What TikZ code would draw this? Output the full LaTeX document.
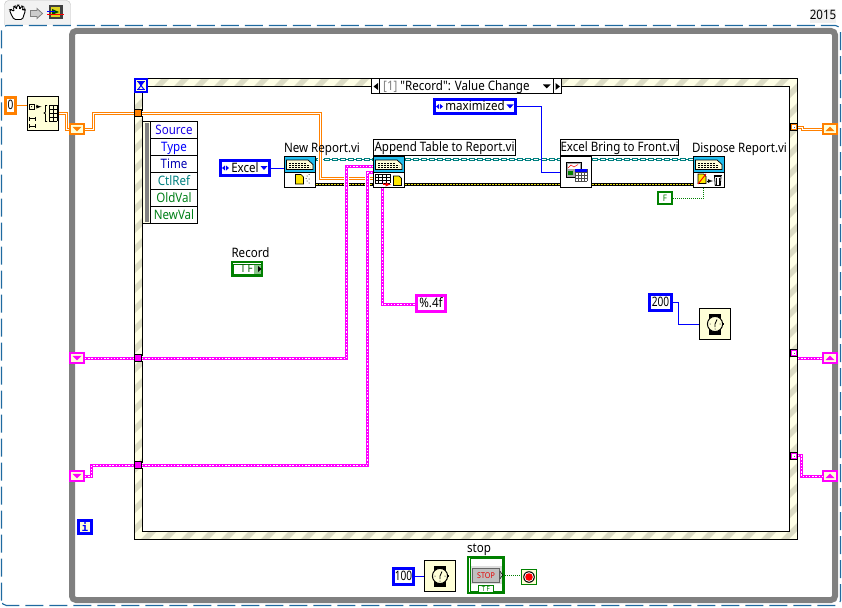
\documentclass[tikz,border=0pt]{standalone}
\usepackage{fontspec}
\setmainfont{Noto Sans}[Ligatures=TeXOff,FakeStretch=.89]
\newfontfamily\numfont{Noto Sans}[FakeStretch=.78]
\newfontfamily\iterfont{DejaVu Sans Mono}
\definecolor{lvorange}{HTML}{FF8000}
\definecolor{lvpink}{HTML}{FF00FF}
\definecolor{lvblue}{HTML}{0000FF}
\definecolor{lvgreen}{HTML}{008000}
\definecolor{lvteal}{HTML}{008080}
\definecolor{lvcream}{HTML}{FFFFD8}
\definecolor{lvhatch}{HTML}{DCDCC4}
\definecolor{lvbase}{HTML}{FFFFE6}
\definecolor{frameblue}{HTML}{1F6AA0}
\definecolor{vihead}{HTML}{1FBDEE}
\newcommand\lvfont{\fontsize{13}{15}\selectfont}
\tikzstyle{txt} = [text height=11pt,text depth=3pt]
\tikzstyle{cnst} = [draw=#1,line width=3pt,fill=white,inner sep=0pt]
\tikzstyle{vi} = [draw=black,line width=1pt,fill=white,inner sep=0pt,minimum size=31]
\tikzstyle{fnct} = [draw=black,line width=1pt,fill=lvcream,inner sep=0pt,minimum size=31]
\tikzstyle{tunnel} = [draw=black,line width=1pt,fill=#1,inner sep=0pt,minimum size=7]
\tikzstyle{shreg} = [draw=#1,line width=2pt,fill=lvcream,inner sep=0pt,minimum width=14,minimum height=10]
\tikzstyle{tag} = [draw=black,line width=1pt,fill=white,inner sep=0pt,minimum height=16,txt]
\tikzstyle{blwire} = [draw=lvblue,line width=1pt]
\tikzstyle{orwire} = [draw=lvorange,line width=1pt,double=white,double distance=1pt]
\tikzstyle{thinor} = [draw=lvorange,line width=1pt]
\tikzstyle{strwire} = [draw=lvpink,line width=3pt,preaction={draw=white,line width=5pt},postaction={draw=white,line width=1.2pt,dash pattern=on 1.3pt off 1.9pt}]
\tikzstyle{refwire} = [draw=lvteal,line width=1pt,preaction={draw=lvteal,line width=3pt,dash pattern=on 6pt off 2pt},postaction={draw=white,line width=1pt,dash pattern=on 4pt off 4pt,dash phase=7pt}]
\tikzstyle{errwire} = [draw=black,line width=3pt,postaction={draw=yellow!90!black,line width=1pt,dash pattern=on 2pt off 1pt}]
\tikzstyle{blnwire} = [draw=lvgreen,line width=1pt,dash pattern=on 1pt off 1pt]
\tikzstyle{cellbox} = [draw=black,line width=.8pt,fill=white,inner sep=0pt,minimum width=46.5,minimum height=17,txt]
% enum ring marks, left arrows and drop-down triangle
\newcommand\ringmk[1]{%
	\fill[lvblue] ([xshift=3pt]#1.west) -- ++(3,-2.5) -- ++(0,5) -- cycle;
	\fill[lvblue] ([xshift=7pt]#1.west) -- ++(-0,-2.5) -- ++(3,2.5) -- ++(-3,2.5) -- cycle;
	\fill[lvblue] ([xshift=-3.5pt]#1.east) ++(0,-2) -- ++(-7,0) -- ++(3.5,4) -- cycle;}
% shift register triangle, #2 is the side it points to
\newcommand\shmk[3]{%
	\fill[#2] ([xshift=-4.5pt]#1.center) ++(0,#3*-2.2) -- ++(9,0) -- ++(-4.5,#3*4.6) -- cycle;}
% cyan header of a report vi
\newcommand\vitop[1]{\begin{scope}[shift={(#1.north west)}]
	\fill[vihead] (.5,.5) rectangle (31.5,16.5);
	\draw[line width=.7pt,fill=lvcream] (2.5,13.5) -- (2.5,4) -- (24,4) -- (29,8.5) -- (29,13.5) -- cycle;
	\draw[line width=.7pt,dash pattern=on 2pt off 1pt] (5,7) -- (22,7) (5,9.5) -- (26,9.5) (5,11.8) -- (26,11.8);
	\draw[line width=1pt] (.5,16.5) -- (31.5,16.5);
	\draw[line width=1pt] (.5,.5) rectangle (31.5,31.5);
\end{scope}}
\newcommand\watch[1]{\begin{scope}[shift={(#1.center)}]
	\fill[black] (-6.2,-10.5) rectangle (6.2,10.5);
	\fill[black] (7.5,-1) rectangle (9,1);
	\draw[line width=1pt,fill=lvcream] (0,0) circle (7.6);
	\draw[line width=.8pt] (0,0) -- (2,-4.5) (0,0) -- (0,3);
	\fill (-5,0) circle (.5) (5,0) circle (.5) (0,5) circle (.5);
\end{scope}}
\newcommand\page[1]{\fill[yellow!90!orange,draw=black,line width=.7pt] (#1) -- ++(5.5,0) -- ++(2.5,2.5) -- ++(0,7) -- ++(-8,0) -- cycle;}

\begin{document}
\begin{tikzpicture}[x=1pt,y=-1pt,font=\lvfont]
\useasboundingbox (0,0) rectangle (842,607);

% tool palette and version tab
\draw[draw=black!25,fill=black!5,rounded corners=4pt] (4.5,25) -- (4.5,0.5) -- (70.5,0.5) -- (70.5,25);
\node[fill=black!6,inner sep=0pt,minimum width=26,minimum height=14,txt] (vers) at (823,16) {2015};
\draw[frameblue,line width=1.1pt,dash pattern=on 18pt off 6pt,rounded corners=5pt] (1.5,605.5) -- (1.5,25.5) -- (840.5,25.5) -- (840.5,605.5) -- cycle;
\draw[line width=.9pt,fill=white,rounded corners=1.5pt] (14,19.5) -- (10.5,13) -- (9.5,9.5) -- (12,9.5) -- (14,12) -- (13.5,6.5) -- (15.5,6) -- (16.5,10) -- (17,5) -- (19.5,5) -- (19.5,10) -- (21.5,6) -- (23.5,6.5) -- (22,11) -- (24.5,8.5) -- (25.5,10.5) -- (23.5,16) -- (22.5,19.5) -- cycle;
\draw[draw=black!50,fill=black!20,line width=.8pt] (30.5,10.5) -- (37,10.5) -- (37,8.5) -- (42.5,13.5) -- (37,18.5) -- (37,16.5) -- (30.5,16.5) -- cycle;
\fill[black!75] (48.5,5) rectangle (62.5,19);
\fill[yellow!85!black] (51,7) rectangle (60,17);
\fill[black!70!green] (52,9) -- (59,12) -- (52,15) -- cycle;
\draw[red,line width=.8pt] (47,14) -- (64,14);
\draw[blue,line width=.8pt] (47,11) -- (55,11);

% while loop and event structure
\node[draw=black!50,line width=6pt,rounded corners=4pt,inner sep=0pt,minimum width=763,minimum height=569] (whloop) at (453.5,315.5) {};
\begin{scope}
	\clip (134.5,78.5) rectangle (797.5,539.5);
	\fill[lvbase] (134.5,78.5) rectangle (797.5,539.5);
	\foreach \s in {-340,-320,...,800}
		\fill[lvhatch] (\s,540) -- (\s+8,540) -- (\s+469,79) -- (\s+461,79) -- cycle;
\end{scope}
\node[draw=black,line width=1pt,inner sep=0pt,minimum width=663,minimum height=461] (evout) at (466,309) {};
\node[draw=black,line width=1pt,fill=white,inner sep=0pt,minimum width=647,minimum height=445] (evin) at (466,309) {};

% rows the wires run on
\coordinate (rowo) at (0,113.5);
\coordinate (rowr) at (0,129.5);
\coordinate (rowa) at (0,358.5);
\coordinate (rowb) at (0,465.5);
\coordinate (rowc) at (0,476.5);

% case selector
\node[tag,minimum width=190,minimum height=15] (evsel) at (466.5,86.5) {};
\draw[line width=1pt] (379.5,79) -- (379.5,94) (553.5,79) -- (553.5,94);
\fill (373.5,86.5) -- (378,83) -- (378,90) -- cycle;
\fill (560,86.5) -- (555.5,83) -- (555.5,90) -- cycle;
\fill (543,84.5) -- (550.5,84.5) -- (546.75,88.5) -- cycle;
\node[anchor=west,inner sep=0pt,txt] (evtxt) at (383,86.5) {\textcolor{black!50}{[1]} "Record": Value Change};

% event data cluster
\fill[lvbase,draw=black,line width=.8pt] (142.5,121.5) rectangle (150.5,223.5);
\fill[black!50] (144.5,123) rectangle (148.5,222);
\node[cellbox,text=blue!80!violet] (evsrc) at (174,130) {Source};
\node[cellbox,text=blue] (evtyp) at (174,147) {Type};
\node[cellbox,text=blue!70!black] (evtim) at (174,164) {Time};
\node[cellbox,text=lvteal] (evctl) at (174,181) {CtlRef};
\node[cellbox,text=lvgreen!80!teal] (evold) at (174,198) {OldVal};
\node[cellbox,text=lvgreen!80!teal] (evnew) at (174,215) {NewVal};

% report vis
\node[vi] (nrp) at (300,172) {};
\node[vi] (apnd) at (389,172) {};
\node[vi] (frnt) at (576,172) {};
\node[vi] (dsp) at (709,172) {};
\node[cnst=lvblue,minimum width=49,minimum height=15,txt] (xlcn) at (245,168) {Excel};
\node[cnst=lvblue,minimum width=81,minimum height=14,txt] (mxcn) at (475,106.5) {maximized};
\node[cnst=lvgreen,line width=2pt,minimum width=14,minimum height=12] (fcn) at (665,198) {};
\node[cnst=lvpink,minimum width=29,minimum height=16,txt] (fmt) at (431,303.5) {\%.4f};

% everything on the loop border
\node[tunnel=lvorange] (tunLo) at (138,113) {};
\node[tunnel=lvpink] (tunLa) at (138,358) {};
\node[tunnel=lvpink] (tunLb) at (138,465) {};
\node[tunnel=lvorange] (tunRo) at (794,127) {};
\node[tunnel=lvpink] (tunRa) at (794,353) {};
\node[tunnel=lvpink] (tunRb) at (794,456) {};
\node[shreg=lvorange] (shLo) at (77,129) {};
\node[shreg=lvpink] (shLa) at (77,358) {};
\node[shreg=lvpink] (shLb) at (77,476) {};
\node[shreg=lvorange] (shRo) at (830,129) {};
\node[shreg=lvpink] (shRa) at (830,358) {};
\node[shreg=lvpink] (shRb) at (830,476) {};

% outside the event structure
\node[cnst=lvorange,minimum width=10,minimum height=16,txt,font=\numfont\lvfont] (czero) at (10.5,105.5) {0};
\node[fnct,minimum width=31,minimum height=34] (init) at (43,113.5) {};
\node[cnst=lvblue,fill=lvcream,minimum width=13,minimum height=13,font=\iterfont\fontsize{11}{11}\selectfont,text=lvblue] (iter) at (85,527) {\bfseries i};
\node[cnst=lvblue,minimum width=22,minimum height=16,txt,font=\numfont\lvfont] (cms) at (660.5,302.5) {200};
\node[fnct] (wtin) at (715,324) {};
\node[cnst=lvblue,minimum width=20,minimum height=16,txt,font=\numfont\lvfont] (chd) at (403.5,576.5) {100};
\node[fnct] (wtot) at (440,576) {};
\node[cnst=lvgreen,line width=2pt,fill=white,minimum size=36] (stp) at (486,575) {};
\node[draw=lvgreen,line width=1pt,fill=lvcream,inner sep=0pt,minimum size=15] (cond) at (529,577) {};
\node[cnst=lvgreen,line width=2pt,minimum width=30,minimum height=14] (rec) at (247,269) {};
\node[cnst=lvblue,line width=2pt,fill=lvcream,minimum width=12,minimum height=13] (hgls) at (141,85.5) {};

% wires
\draw[thinor] (czero.east) -- (czero.east -| init.west);
\draw[orwire] (init.east |- rowo) -- ++(7.5,0) |- (shLo.west |- rowr);
\draw[orwire] (shLo.east |- rowr) -- ++(8.5,0) |- (tunLo.west |- rowo);
\draw[refwire] ([yshift=-3.5pt]nrp.north east) -- ([yshift=-3.5pt]apnd.north west);
\draw[refwire] ([yshift=-3.5pt]apnd.north east) -- ([yshift=-3.5pt]frnt.north west);
\draw[refwire] ([yshift=-3.5pt]frnt.north east) -- ([yshift=-3.5pt]dsp.north west);
\draw[errwire] ([yshift=3.5pt]nrp.south east) -- ([yshift=3.5pt]apnd.south west);
\draw[errwire] ([yshift=3.5pt]apnd.south east) -- ([yshift=3.5pt]frnt.south west);
\draw[errwire] ([yshift=3.5pt]frnt.south east) -- ([yshift=3.5pt]dsp.south west);
\coordinate (obend) at (320.5,178.5);
\draw[orwire,preaction={draw=white,line width=5pt}] (tunLo.east |- rowo) -| (obend) -- (obend -| apnd.west);
\draw[orwire] ([yshift=-.5pt]tunRo.east) -- ++(4.5,0) |- (shRo.west |- rowr);
\coordinate (abend) at (346.5,166.5);
\coordinate (bbend) at (367.5,172.5);
\draw[strwire] (shLa.east |- rowa) -- (tunLa.west |- rowa);
\draw[strwire] (shLb.east |- rowc) -- ++(6.5,0) |- (tunLb.west |- rowb);
\draw[strwire] (tunLa.east |- rowa) -| (abend) -- (abend -| apnd.west);
\draw[strwire] (tunLb.east |- rowb) -| (bbend) -- (bbend -| apnd.west);
\draw[strwire] ([xshift=9.5pt]apnd.south west) |- ([yshift=-1pt]fmt.west);
\draw[strwire] (tunRa.east |- rowa) -- (shRa.west |- rowa);
\draw[strwire] ([yshift=.5pt]tunRb.east) -- ++(3.5,0) |- (shRb.west |- rowc);
\draw[blwire] ([yshift=-.5pt]xlcn.east) -- ([yshift=-.5pt]xlcn.east -| nrp.west);
\coordinate (mbend) at (541.5,172.5);
\draw[blwire] (mxcn.east) -| (mbend) -- (mbend -| frnt.west);
\draw[blwire] (cms.east) -- ++(5.5,0) |- ([yshift=-.5pt]wtin.west);
\draw[blwire] (chd.east) -- (chd.east -| wtot.west);
\draw[blnwire] ([yshift=-.5pt]fcn.east) -| ([xshift=10.5pt]dsp.south west);
\draw[blnwire] ([yshift=-.5pt]stp.east) -- ([yshift=-.5pt]stp.east -| cond.west);

% icon faces
\vitop{nrp}
\vitop{apnd}
\vitop{dsp}
\ringmk{xlcn}
\ringmk{mxcn}
\page{295.5,174.5}
\fill (307,176) circle (.5) (309,174.5) circle (.5) (306,178.5) circle (.5) (309,179) circle (.5) (307,181) circle (.5) (309,183) circle (.5);
\draw[line width=.7pt,xstep=3.75pt,ystep=3pt,shift={(375,174)}] (0,9) grid (15,0);
\draw[red,line width=.9pt,-latex] (383,183) -- (383,184.5) -- (391,184.5);
\page{393.5,176}
\page{698,174}
\draw[red,line width=.9pt] (698,184) -- (706,174);
\draw[line width=.8pt,-latex] (707,181) -- (713,181);
\draw[line width=.8pt,fill=white] (714.5,176.5) -- (721,176.5) -- (720.3,185.5) -- (715.2,185.5) -- cycle;
\draw[line width=.8pt] (713.5,175.5) -- (722,175.5) (716.5,177.5) -- (716.5,184.5) (719,177.5) -- (719,184.5);
\draw[line width=.8pt,fill=black!35] (566,162) rectangle (581,177);
\fill[white] (567.5,163.5) rectangle (579.5,169);
\draw[red,line width=.5pt] (568,168) -- (571,165) -- (574,167) -- (578,164.5);
\fill[lvgreen] (568,171) rectangle (573,175);
\fill[white] (575,169) rectangle (587,181);
\draw[line width=.6pt,step=3pt,draw=black!70,shift={(575,169)}] (0,12) grid (12,0);
\fill[lvblue] (575,169) rectangle (587,171.5);
\node[font=\bfseries\fontsize{9}{10}\selectfont,text=lvgreen,inner sep=0pt] (ftxt) at (fcn.center) {F};

% array init face
\draw[line width=.8pt] (29.3,104.5) rectangle (34,109);
\fill (31.6,106.7) circle (.6);
\draw[line width=.8pt,-latex] (36,106.7) -- (41.5,106.7);
\draw[line width=.8pt] (29.3,116.5) -- (29.3,120.5) (29.3,118.5) -- (35.5,118.5) (35.5,116.5) -- (35.5,120.5);
\draw[line width=.8pt] (29.3,124) -- (29.3,128) (29.3,126) -- (35.5,126) (35.5,124) -- (35.5,128);
\draw[line width=.8pt] (47,105.5) -- (45.5,105.5) -- (45.5,112) -- (44,113) -- (45.5,114) -- (45.5,121.5) -- (47,121.5);
\draw[line width=.7pt,step=4pt,shift={(49,105)}] (0,16) grid (8,0);

% shift register marks
\shmk{shLo}{lvorange}{1}
\shmk{shLa}{lvpink}{1}
\shmk{shLb}{lvpink}{1}
\shmk{shRo}{lvorange}{-1}
\shmk{shRa}{lvpink}{-1}
\shmk{shRb}{lvpink}{-1}
\foreach \t in {tunRo,tunRa,tunRb} {
	\fill[white] (\t.center) ++(-1.8,-1.8) rectangle ++(3.6,3.6);
	\fill[black!60] (\t.center) ++(-.5,-.5) rectangle ++(1,1);
}

\watch{wtin}
\watch{wtot}

% hourglass
\draw[lvblue,line width=1pt] (137,81.5) -- (145,81.5) (137,89.5) -- (145,89.5);
\draw[lvblue,line width=1pt] (138,81.5) -- (144,89.5) (144,81.5) -- (138,89.5);
\fill[lvblue] (138.5,82) -- (143.5,82) -- (141,85.5) -- cycle;

% stop terminal
\fill[black!13] (471,566) rectangle (501.5,584);
\draw[lvgreen,line width=.8pt] (470,558.5) rectangle (502.5,591.5);
\draw[black!60,fill=black!25,line width=1pt] (472.5,568) rectangle (499.5,582.5);
\node[font=\bfseries\fontsize{8}{8}\selectfont,text=red!90!black,inner sep=0pt] (stptxt) at (486,575.3) {STOP};
\fill (499.8,570.5) -- (503,575) -- (499.8,579.5) -- cycle;
\fill[white] (500.3,572) -- (502,575) -- (500.3,578) -- cycle;
\node[draw=lvgreen,line width=.8pt,fill=white,inner sep=0pt,minimum width=14.5,minimum height=7,font=\bfseries\fontsize{7}{8}\selectfont,text=lvgreen] (stptf) at (485.8,589.2) {T\,F};
\node[inner sep=0pt,txt] (stplbl) at (479,548) {stop};
\fill[black] (cond.center) circle (5.8);
\fill[white] (cond.center) circle (4.8);
\fill[red] (cond.center) circle (3.8);

% record terminal
\fill[lvgreen!45] (254,263.5) rectangle (261,274.5);
\draw[lvgreen,line width=.8pt] (233.5,264) rectangle (261.5,274);
\node[font=\bfseries\fontsize{11}{11}\selectfont,text=lvgreen!70!black,inner sep=0pt] (rectf) at (246.5,269) {T\,F};
\fill (258,266) -- (261.5,269) -- (258,272) -- cycle;
\node[inner sep=0pt,txt] (reclbl) at (250.5,253) {Record};

% vi names, drawn over the wires
\node[inner sep=0pt,txt] (nrplbl) at (322,148) {New Report.vi};
\node[tag,minimum width=142] (apndlbl) at (444.5,147.5) {Append Table to Report.vi};
\node[tag,minimum width=118] (frntlbl) at (619.5,147.5) {Excel Bring to Front.vi};
\node[inner sep=0pt,txt] (dsplbl) at (739.5,148) {Dispose Report.vi};
\end{tikzpicture}
\end{document}
